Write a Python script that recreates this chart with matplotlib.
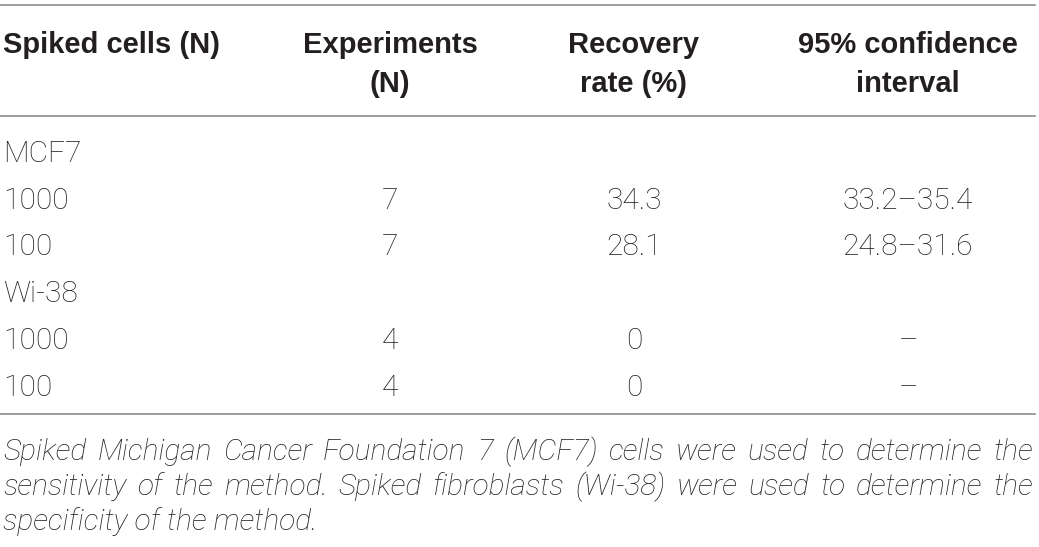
import matplotlib
matplotlib.use("Agg")
import matplotlib.pyplot as plt

# -----------------------------
# Table content
# -----------------------------
headers = [["Spiked cells (N)"], ["Experiments", "(N)"], ["Recovery", "rate (%)"],
           ["95% confidence", "interval"]]
first_col = ["MCF7", "1000", "100", "Wi-38", "1000", "100"]
experiments = ["", "7", "7", "", "4", "4"]
recovery = ["", "34.3", "28.1", "", "0", "0"]
conf_int = ["", "33.2\u201335.4", "24.8\u201331.6", "", "\u2013", "\u2013"]
footnote_lines = [
    "Spiked Michigan Cancer Foundation 7 (MCF7) cells were used to determine the",
    "sensitivity of the method. Spiked fibroblasts (Wi-38) were used to determine the",
    "specificity of the method.",
]

W, H = 1039, 547
fig = plt.figure(figsize=(W / 100, H / 100), dpi=100)
ax = fig.add_axes([0, 0, 1, 1])
ax.set_xlim(0, W)
ax.set_ylim(H, 0)
ax.axis("off")

txt = "#231f20"
rule = "#8c8c8c"
body_font = dict(family="Roboto", weight="light", size=21.5, color=txt)
head_font = dict(family="Liberation Sans", weight="bold", size=21, color=txt)

# horizontal rules
for y in [5, 116, 414]:
    ax.plot([0, 1035], [y, y], color=rule, lw=1.2)

# header
col_x = [3, 390, 634, 908]
for i, lines in enumerate(headers):
    for j, line in enumerate(lines):
        ax.text(col_x[i], 45 + 39 * j, line, ha="left" if i == 0 else "center",
                va="center", **head_font)

# body rows
row_y = [154, 201, 247, 294, 341, 388]
for k, y in enumerate(row_y):
    ax.text(col_x[0], y, first_col[k], ha="left", va="center", **body_font)
    for i, col in enumerate([experiments, recovery, conf_int], start=1):
        if col[k]:
            ax.text(col_x[i], y, col[k], ha="center", va="center", **body_font)

# justified italic footnote
foot_font = dict(family="Roboto", weight="light", style="italic", size=21.5, color=txt)
x0, x1 = 3, 1033
fig.canvas.draw()
renderer = fig.canvas.get_renderer()
for n, line in enumerate(footnote_lines):
    y = 452 + 35 * n
    words = line.split(" ")
    last = n == len(footnote_lines) - 1
    if last:
        ax.text(x0, y, line, ha="left", va="center", **foot_font)
        continue
    artists, widths = [], []
    for w in words:
        t = ax.text(0, y, w, ha="left", va="center", **foot_font)
        bb = t.get_window_extent(renderer=renderer)
        artists.append(t)
        widths.append(bb.width)
    gap = (x1 - x0 - sum(widths)) / (len(words) - 1)
    x = x0
    for t, wd in zip(artists, widths):
        t.set_x(x)
        x += wd + gap

fig.savefig("out.png", dpi=100)
